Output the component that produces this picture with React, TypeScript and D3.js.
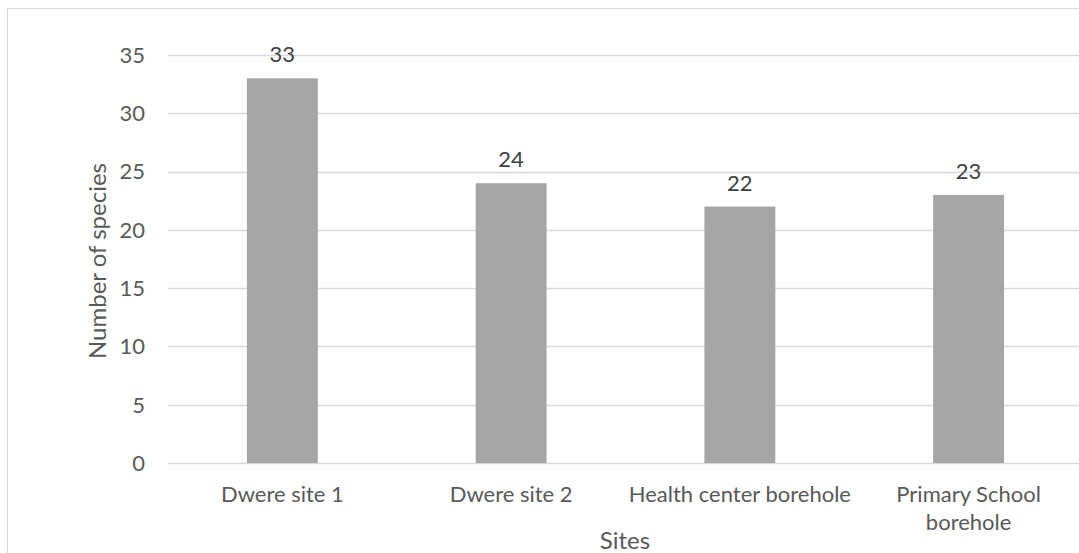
import * as d3 from 'd3'

const sites = ['Dwere site 1', 'Dwere site 2', 'Health center borehole', 'Primary School borehole']
const siteLines = [['Dwere site 1'], ['Dwere site 2'], ['Health center borehole'], ['Primary School', 'borehole']]
const species = [33, 24, 22, 23]
const yTicks = [0, 5, 10, 15, 20, 25, 30, 35]

const width = 1079
const height = 553
const font = 'Lato, "Open Sans", sans-serif'
const textColor = '#595959'

function App() {
  const x = d3.scaleBand<string>()
    .domain(sites)
    .range([168, 1083])
    .paddingInner(0.69)
    .paddingOuter(0.345)

  const y = d3.scaleLinear()
    .domain([0, 35])
    .range([463, 55])

  return (
    <div style={{ position: 'absolute', left: 0, top: 0 }}>
      <svg width={width} height={height} style={{ display: 'block', fontFamily: font }}>
        <rect x={0} y={0} width={width} height={height} fill="#fff" />
        <rect x={7.5} y={8.5} width={1200} height={700} fill="none" stroke="#d9d9d9" />

        {yTicks.map(t => (
          <g key={t}>
            <line x1={168} x2={1083} y1={Math.round(y(t)) + 0.5} y2={Math.round(y(t)) + 0.5} stroke="#d9d9d9" strokeWidth={1.5} />
            <text x={145} y={y(t)} dy="0.36em" textAnchor="end" fontSize={22} fill={textColor}>{t}</text>
          </g>
        ))}

        {sites.map((s, i) => (
          <g key={s}>
            <rect
              x={x(s)}
              y={y(species[i])}
              width={x.bandwidth()}
              height={y(0) - y(species[i])}
              fill="#a5a5a5"
            />
            <text
              x={(x(s) ?? 0) + x.bandwidth() / 2}
              y={y(species[i]) - 16}
              textAnchor="middle"
              fontSize={22}
              fill="#404040"
            >{species[i]}</text>
            {siteLines[i].map((ln, j) => (
              <text
                key={ln}
                x={(x(s) ?? 0) + x.bandwidth() / 2}
                y={502 + j * 28}
                textAnchor="middle"
                fontSize={22}
                fill={textColor}
              >{ln}</text>
            ))}
          </g>
        ))}

        <text x={625} y={549} textAnchor="middle" fontSize={24} fill={textColor}>Sites</text>
        <text
          transform={`translate(106, 261) rotate(-90)`}
          textAnchor="middle"
          fontSize={24}
          fill={textColor}
        >Number of species</text>
      </svg>
    </div>
  )
}

export default App
